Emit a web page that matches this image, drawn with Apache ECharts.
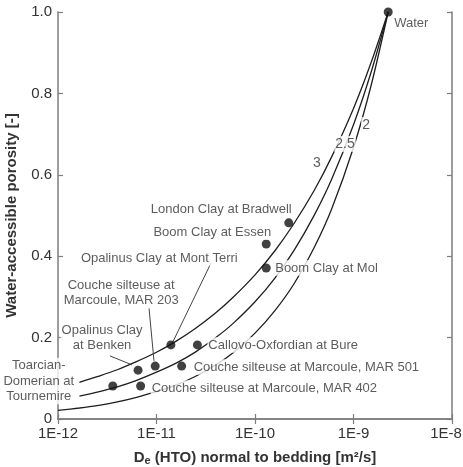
<!DOCTYPE html>
<html>
<head>
<meta charset="utf-8">
<script src="https://cdn.jsdelivr.net/npm/echarts@6/dist/echarts.min.js"></script>
<style>
  html, body { margin: 0; padding: 0; background: #fff; }
  #chart { width: 463px; height: 467px; }
</style>
</head>
<body>
<div id="chart"></div>
<script>
// measured clays (De in m2/s, porosity -)
const siteNames = [
  'Water',
  'London Clay at Bradwell',
  'Boom Clay at Essen',
  'Boom Clay at Mol',
  'Opalinus Clay at Mont Terri',
  'Couche silteuse at\nMarcoule, MAR 203',
  'Opalinus Clay\nat Benken',
  'Toarcian-\nDomerian at\nTournemire',
  'Callovo-Oxfordian at Bure',
  'Couche silteuse at Marcoule, MAR 501',
  'Couche silteuse at Marcoule, MAR 402'
];
const siteDe = [2.25e-9, 2.2e-10, 1.3e-10, 1.3e-10, 1.4e-11, 9.7e-12, 6.5e-12, 3.6e-12, 2.6e-11, 1.8e-11, 6.9e-12];
const sitePorosity = [1.0, 0.482, 0.43, 0.371, 0.182, 0.13, 0.12, 0.081, 0.182, 0.13, 0.081];

// curves, one per exponent
const curveNames = ['3', '2.5', '2'];
const curveM3De = [1.65e-12, 2.5e-12, 4e-12, 6e-12, 1e-11, 1.6e-11, 2.5e-11, 4e-11, 6e-11, 1e-10, 1.6e-10, 2.5e-10, 4e-10, 6e-10, 1e-9, 1.5e-9, 2.25e-9];
const curveM3Phi = [0.09, 0.104, 0.121, 0.139, 0.164, 0.192, 0.223, 0.261, 0.299, 0.354, 0.414, 0.481, 0.562, 0.644, 0.763, 0.874, 1.0];
const curveM25De = [1.65e-12, 2.5e-12, 4e-12, 6e-12, 1e-11, 1.6e-11, 2.5e-11, 4e-11, 6e-11, 1e-10, 1.6e-10, 2.5e-10, 4e-10, 6e-10, 1e-9, 1.5e-9, 2.25e-9];
const curveM25Phi = [0.056, 0.066, 0.079, 0.093, 0.115, 0.138, 0.165, 0.2, 0.235, 0.288, 0.347, 0.415, 0.501, 0.589, 0.723, 0.85, 1.0];
const curveM2De = [1e-12, 1.65e-12, 2.5e-12, 4e-12, 6e-12, 1e-11, 1.6e-11, 2.5e-11, 4e-11, 6e-11, 1e-10, 1.6e-10, 2.5e-10, 4e-10, 6e-10, 1e-9, 1.5e-9, 2.25e-9];
const curveM2Phi = [0.021, 0.027, 0.033, 0.042, 0.052, 0.067, 0.084, 0.105, 0.133, 0.163, 0.211, 0.267, 0.333, 0.422, 0.516, 0.667, 0.817, 1.0];

// where the exponent tags sit (data space)
const curveTagDe = [4.26e-10, 8.2e-10, 1.34e-9];
const curveTagPhi = [0.629, 0.676, 0.722];

const xTickLabels = ['1E-12', '1E-11', '1E-10', '1E-9', '1E-8'];
const yTickValues = [0, 0.2, 0.4, 0.6, 0.8, 1.0];

const FONT = '"Liberation Sans", Arial, sans-serif';
const TEXT = '#333';
const AXIS = '#7d7d7d';
const INK = '#1e1e1e';

// label placement next to each dot (px)
const siteLabels = [
  { align: 'left', offset: [5, 11] },
  { align: 'right', offset: [4, -13] },
  { align: 'right', offset: [6, -12] },
  { align: 'left', offset: [8, 0] },
  { align: 'left', offset: [-91, -87] },
  { align: 'center', offset: [-34, -73] },
  { align: 'center', offset: [-36, -32] },
  { align: 'center', offset: [-74, -5] },
  { align: 'left', offset: [10, 0] },
  { align: 'left', offset: [11, 1] },
  { align: 'left', offset: [10, 2] }
];

// leader lines, label -> dot
const leaders = [
  [[3.57e-11, 0.383], [1.47e-11, 0.19]],
  [[8.39e-12, 0.273], [9.43e-12, 0.143]],
  [[3.37e-12, 0.155], [5.64e-12, 0.133]]
];

const pairs = (xs, ys) => xs.map((x, i) => [x, ys[i]]);

const curve = (name, data) => ({
  name,
  type: 'line',
  data,
  smooth: 0.3,
  symbol: 'none',
  silent: true,
  z: 2,
  lineStyle: { color: INK, width: 1.3 }
});

const sites = siteNames.map((name, i) => ({
  name,
  value: [siteDe[i], sitePorosity[i]],
  label: { align: siteLabels[i].align, offset: siteLabels[i].offset }
}));

const tickFont = { fontFamily: FONT, fontSize: 15, color: TEXT };
const noteFont = { fontFamily: FONT, fontSize: 13, color: TEXT };

const tickLabel = v => {
  const i = Math.round(Math.log10(v)) + 12;
  const s = xTickLabels[i] || '';
  return i === 4 ? '{r|' + s + '}' : s;
};

const option = {
  backgroundColor: '#fff',
  animation: false,
  grid: { left: 58, right: 11, top: 12, bottom: 48, containLabel: false, outerBoundsMode: 'none' },
  xAxis: [
    {
      type: 'log',
      logBase: 10,
      min: 1e-12,
      max: 1e-8,
      axisLine: { lineStyle: { color: AXIS, width: 1.5 } },
      axisTick: { inside: true, length: 5, lineStyle: { color: AXIS, width: 1.2 } },
      minorTick: { show: false },
      splitLine: { show: false },
      axisLabel: {
        ...tickFont,
        margin: 7,
        formatter: tickLabel,
        rich: { r: { ...tickFont, padding: [0, 12, 0, 0] } }
      },
      name: '{a|D}{s|e}{a| (HTO) normal to bedding [m²/s]}',
      nameLocation: 'middle',
      nameGap: 30,
      nameTextStyle: {
        rich: {
          a: { fontFamily: FONT, fontSize: 15, fontWeight: 'bold', color: TEXT, lineHeight: 18 },
          s: { fontFamily: FONT, fontSize: 11, fontWeight: 'bold', color: TEXT, lineHeight: 18, padding: [6, 0, 0, 0] }
        }
      }
    },
    {
      type: 'log',
      logBase: 10,
      min: 1e-12,
      max: 1e-8,
      position: 'top',
      axisLine: { lineStyle: { color: AXIS, width: 1.5 } },
      axisTick: { inside: true, length: 5, lineStyle: { color: AXIS, width: 1.2 } },
      minorTick: { show: false },
      splitLine: { show: false },
      axisLabel: { show: false }
    }
  ],
  yAxis: [
    {
      type: 'value',
      min: 0,
      max: 1,
      interval: 0.2,
      axisLine: { show: true, lineStyle: { color: AXIS, width: 1.5 } },
      axisTick: { show: true, inside: true, length: 5, lineStyle: { color: AXIS, width: 1.2 } },
      splitLine: { show: false },
      axisLabel: {
        ...tickFont,
        margin: 6,
        formatter: v => {
          const t = yTickValues.find(y => Math.abs(y - v) < 1e-6);
          return t === 0 ? '0' : t.toFixed(1);
        }
      },
      name: 'Water-accessible porosity [-]',
      nameLocation: 'middle',
      nameGap: 39,
      nameTextStyle: { fontFamily: FONT, fontSize: 15, fontWeight: 'bold', color: TEXT }
    },
    {
      type: 'value',
      min: 0,
      max: 1,
      interval: 0.2,
      position: 'right',
      axisLine: { show: true, lineStyle: { color: AXIS, width: 1.5 } },
      axisTick: { show: true, inside: true, length: 5, lineStyle: { color: AXIS, width: 1.2 } },
      splitLine: { show: false },
      axisLabel: { show: false }
    }
  ],
  series: [
    curve(curveNames[0], pairs(curveM3De, curveM3Phi)),
    curve(curveNames[1], pairs(curveM25De, curveM25Phi)),
    curve(curveNames[2], pairs(curveM2De, curveM2Phi)),
    {
      name: 'tags',
      type: 'scatter',
      symbolSize: 0,
      silent: true,
      z: 4,
      data: curveNames.map((n, i) => ({ name: n, value: [curveTagDe[i], curveTagPhi[i]] })),
      label: {
        show: true,
        position: 'inside',
        formatter: '{b}',
        ...noteFont,
        fontSize: 14,
        backgroundColor: '#fff',
        padding: [1, 1]
      }
    },
    {
      name: 'sites',
      type: 'scatter',
      symbol: 'circle',
      symbolSize: 9,
      silent: true,
      z: 5,
      itemStyle: { color: '#111' },
      data: sites,
      label: {
        show: true,
        position: 'inside',
        formatter: '{b}',
        ...noteFont,
        lineHeight: 15.5,
        backgroundColor: '#fff',
        padding: [0, 1]
      },
      markLine: {
        silent: true,
        symbol: 'none',
        label: { show: false },
        lineStyle: { color: '#444', width: 1, type: 'solid' },
        data: leaders.map(([a, b]) => [{ coord: a }, { coord: b }])
      }
    }
  ]
};

const chart = echarts.init(document.getElementById('chart'), null, { renderer: 'canvas' });
chart.setOption(option);
</script>
</body>
</html>
